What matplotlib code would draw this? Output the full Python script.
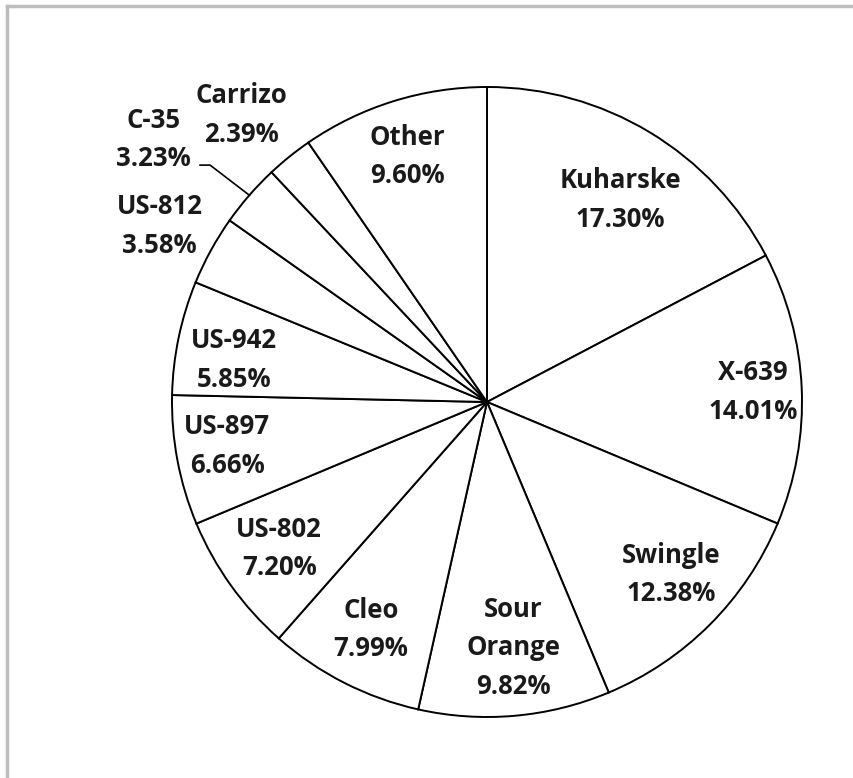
import numpy as np
import matplotlib
matplotlib.use("Agg")
import matplotlib.pyplot as plt
from matplotlib.lines import Line2D
from matplotlib import font_manager as fm

# rootstock shares, clockwise from 12 o'clock
names = ["Kuharske", "X-639", "Swingle", "Sour\nOrange", "Cleo", "US-802",
         "US-897", "US-942", "US-812", "C-35", "Carrizo", "Other"]
shares = [17.30, 14.01, 12.38, 9.82, 7.99, 7.20, 6.66, 5.85, 3.58, 3.23, 2.39, 9.60]

# label placement: radial distance (in radii) and angle nudge (deg) per slice
label_r = [0.768, 0.845, 0.80, 0.785, 0.81, 0.807, 0.837, 0.814, 1.18, 1.347, 1.20, 0.82]
label_da = [-2.3, -0.35, 1.8, 1, 0, -0.5, -1.1, 2.4, 0.5, 2.8, 1.7, 0.7]

# pick a font that really has a bold face
family = 'DejaVu Sans'
for fam in ['Open Sans', 'Lato', 'Noto Sans']:
    try:
        p = fm.findfont(fm.FontProperties(family=fam, weight='bold'),
                        fallback_to_default=False)
        if 'bold' in p.lower():
            family = fam
            break
    except Exception:
        pass
plt.rcParams['font.family'] = [family, 'DejaVu Sans']

fig = plt.figure(figsize=(8.54, 7.78), dpi=100)
W, H = 854, 778
R = 315
cx, cy = 487, 402
ax = fig.add_axes([(cx - R) / W, (H - cy - R) / H, 2 * R / W, 2 * R / H])

wedges, _ = ax.pie(shares, startangle=90, counterclock=False, radius=1,
                   colors=['white'] * len(shares),
                   wedgeprops=dict(edgecolor='black', linewidth=1.4))
ax.set_xlim(-1, 1)
ax.set_ylim(-1, 1)
ax.set_aspect('equal')
ax.axis('off')

for w, name, val, r, da in zip(wedges, names, shares, label_r, label_da):
    mid = np.deg2rad((w.theta1 + w.theta2) / 2 + da)
    ax.text(r * np.cos(mid), r * np.sin(mid), f"{name}\n{val:.2f}%",
            ha='center', va='center', fontsize=18.5, fontweight='bold',
            linespacing=1.55, color='#1a1a1a')

# leader line for the C-35 label
i = names.index("C-35")
w = wedges[i]
mid = np.deg2rad((w.theta1 + w.theta2) / 2)
ax.plot([-0.911, -0.879, np.cos(mid)], [0.752, 0.752, np.sin(mid)],
        color='black', lw=1.2, clip_on=False)

# grey frame (top and left edges visible)
fig.add_artist(Line2D([7 / W, 1], [1 - 6 / H, 1 - 6 / H], color='#bdbdbd', lw=2.5))
fig.add_artist(Line2D([7 / W, 7 / W], [0, 1 - 6 / H], color='#bdbdbd', lw=2.5))

fig.savefig("out.png", dpi=100)
